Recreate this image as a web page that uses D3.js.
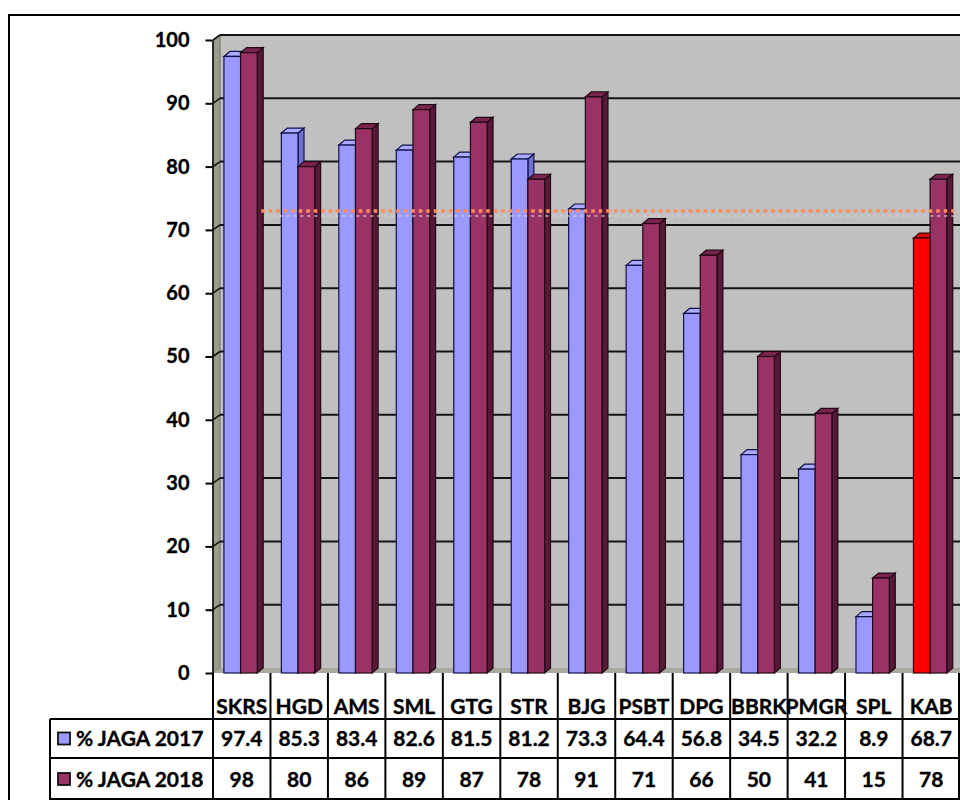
<!DOCTYPE html>
<html>
<head>
<meta charset="utf-8">
<script src="https://cdn.jsdelivr.net/npm/d3@7"></script>
<style>
  html, body { margin: 0; padding: 0; background: #ffffff; }
  svg { display: block; }
  text { font-family: Lato, "Open Sans", sans-serif; font-weight: 700; fill: #000; stroke: #000; stroke-width: 0.35px; }
</style>
</head>
<body>
<svg id="chart" width="960" height="800"></svg>
<script>
// Region codes and scores per year
const categories = ["SKRS", "HGD", "AMS", "SML", "GTG", "STR", "BJG", "PSBT", "DPG", "BBRK", "PMGR", "SPL", "KAB"];
const jaga2017 = [97.4, 85.3, 83.4, 82.6, 81.5, 81.2, 73.3, 64.4, 56.8, 34.5, 32.2, 8.9, 68.7];
const jaga2018 = [98, 80, 86, 89, 87, 78, 91, 71, 66, 50, 41, 15, 78];
const seriesNames = ["% JAGA 2017", "% JAGA 2018"];
const yTicks = [0, 10, 20, 30, 40, 50, 60, 70, 80, 90, 100];
const targetLine = 73;
const highlight = "KAB";

const svg = d3.select("#chart");

// Layout
const plotLeft = 213, plotRight = 960, plotTop = 40, floorY = 673;
const depthX = 7, depthY = 5;      // 3D wall / bar depth
const rowTop1 = 719, rowTop2 = 758, tableBottom = 800, labelLeft = 50;

const x = d3.scaleBand().domain(categories).range([plotLeft, plotRight]);
const y = d3.scaleLinear().domain([0, 100]).range([floorY, plotTop]);
const bw = x.bandwidth();

// Outer frame
svg.append("path")
  .attr("d", `M9,805 L9,15 L965,15`)
  .attr("fill", "none").attr("stroke", "#000").attr("stroke-width", 2);

// Back wall
svg.append("rect")
  .attr("x", plotLeft + depthX).attr("y", y(100) - depthY)
  .attr("width", plotRight - plotLeft - depthX).attr("height", floorY - y(100))
  .attr("fill", "#c0c0c0");

// Side wall
svg.append("path")
  .attr("d", `M${plotLeft},${y(100)} L${plotLeft + depthX},${y(100) - depthY} L${plotLeft + depthX},${floorY - depthY} L${plotLeft},${floorY} Z`)
  .attr("fill", "#9c9c8c").attr("stroke", "#6e6e60").attr("stroke-width", 1);

// Floor strip
svg.append("path")
  .attr("d", `M${plotLeft},${floorY} L${plotLeft + depthX},${floorY - depthY} L${plotRight},${floorY - depthY} L${plotRight},${floorY} Z`)
  .attr("fill", "#a8a8a0");

// Gridlines on back wall and side wall
const grid = svg.append("g");
yTicks.filter(t => t > 0).forEach(t => {
  grid.append("line")
    .attr("x1", plotLeft + depthX).attr("x2", plotRight)
    .attr("y1", y(t) - depthY).attr("y2", y(t) - depthY)
    .attr("stroke", "#141414").attr("stroke-width", 2);
  grid.append("line")
    .attr("x1", plotLeft).attr("x2", plotLeft + depthX)
    .attr("y1", y(t)).attr("y2", y(t) - depthY)
    .attr("stroke", "#141414").attr("stroke-width", 1.6);
});

// Y axis
const yAxis = d3.axisLeft(y).tickValues(yTicks).tickSize(7).tickSizeOuter(0).tickPadding(16);
const ya = svg.append("g").attr("transform", `translate(${plotLeft - 0.5},0)`).call(yAxis);
ya.select(".domain").attr("stroke", "#000").attr("stroke-width", 1.5);
ya.selectAll(".tick line").attr("stroke", "#000").attr("stroke-width", 2);
ya.selectAll(".tick text")
  .style("font-family", "Lato, sans-serif").style("font-weight", "700")
  .style("font-size", "20px").attr("fill", "#000").attr("stroke", "#000").attr("stroke-width", 0.35);

// 3D bars
const palettes = {
  blue:   { front: "#9999ff", top: "#aaaaff", side: "#7070d0", stroke: "#10104a" },
  maroon: { front: "#993366", top: "#7a2450", side: "#561a38", stroke: "#220814" },
  red:    { front: "#ff0000", top: "#d40000", side: "#a00000", stroke: "#3a0000" }
};

function bar(g, x0, w, v, pal) {
  const yt = y(v);
  const dx = depthX * 0.85;
  // side face
  g.append("path")
    .attr("d", `M${x0 + w},${yt} L${x0 + w + dx},${yt - depthY} L${x0 + w + dx},${floorY - depthY} L${x0 + w},${floorY} Z`)
    .attr("fill", pal.side).attr("stroke", pal.stroke).attr("stroke-width", 1.2);
  // top face
  g.append("path")
    .attr("d", `M${x0},${yt} L${x0 + dx},${yt - depthY} L${x0 + w + dx},${yt - depthY} L${x0 + w},${yt} Z`)
    .attr("fill", pal.top).attr("stroke", pal.stroke).attr("stroke-width", 1.2);
  // front face
  g.append("rect")
    .attr("x", x0).attr("y", yt).attr("width", w).attr("height", floorY - yt)
    .attr("fill", pal.front).attr("stroke", pal.stroke).attr("stroke-width", 1.2);
}

const bars = svg.append("g");
const barW = bw * 0.29;
const off = bw * 0.19;
categories.forEach((c, i) => {
  const g = bars.append("g");
  bar(g, x(c) + off, barW, jaga2017[i], c === highlight ? palettes.red : palettes.blue);
  bar(g, x(c) + off + barW, barW, jaga2018[i], palettes.maroon);
});

// Target reference line
const lineStart = x(categories[1]) - bw * 0.16;
svg.append("line")
  .attr("x1", lineStart + 4).attr("x2", plotRight - 4)
  .attr("y1", y(targetLine) + 5).attr("y2", y(targetLine) + 5)
  .attr("stroke", "#d8d8d8").attr("stroke-width", 2).attr("stroke-dasharray", "3,4").attr("opacity", 0.6);
svg.append("line")
  .attr("x1", lineStart).attr("x2", plotRight - 6)
  .attr("y1", y(targetLine)).attr("y2", y(targetLine))
  .attr("stroke", "#ff8c5a").attr("stroke-width", 3.5).attr("stroke-dasharray", "3.5,4");

// Data table
const table = svg.append("g");
const tline = (x1, y1, x2, y2) => table.append("line")
  .attr("x1", x1).attr("y1", y1).attr("x2", x2).attr("y2", y2)
  .attr("stroke", "#000").attr("stroke-width", 2);

x.domain().forEach(c => tline(x(c), floorY, x(c), tableBottom));
tline(plotRight - 1, floorY, plotRight - 1, tableBottom);
tline(labelLeft, rowTop1, labelLeft, tableBottom);
tline(labelLeft, rowTop1, plotRight, rowTop1);
tline(labelLeft, rowTop2, plotRight, rowTop2);
tline(labelLeft, tableBottom - 1, plotRight, tableBottom - 1);

const fs = "21px";
categories.forEach((c, i) => {
  const cx = x(c) + bw / 2;
  table.append("text").attr("x", cx).attr("y", 714)
    .attr("text-anchor", "middle").style("font-size", fs).text(c);
  table.append("text").attr("x", cx).attr("y", rowTop2 - 12)
    .attr("text-anchor", "middle").style("font-size", fs).text(jaga2017[i]);
  table.append("text").attr("x", cx).attr("y", tableBottom - 13)
    .attr("text-anchor", "middle").style("font-size", fs).text(jaga2018[i]);
});

// Row labels with legend keys
[[rowTop1, rowTop2, palettes.blue], [rowTop2, tableBottom, palettes.maroon]].forEach(([a, b, pal], k) => {
  const cy = (a + b) / 2;
  table.append("rect").attr("x", 58).attr("y", cy - 6).attr("width", 12).attr("height", 12)
    .attr("fill", pal.front).attr("stroke", "#111").attr("stroke-width", 1.8);
  table.append("text").attr("x", 76).attr("y", b - (k === 0 ? 12 : 13)).style("font-size", fs).text(seriesNames[k]);
});
</script>
</body>
</html>
